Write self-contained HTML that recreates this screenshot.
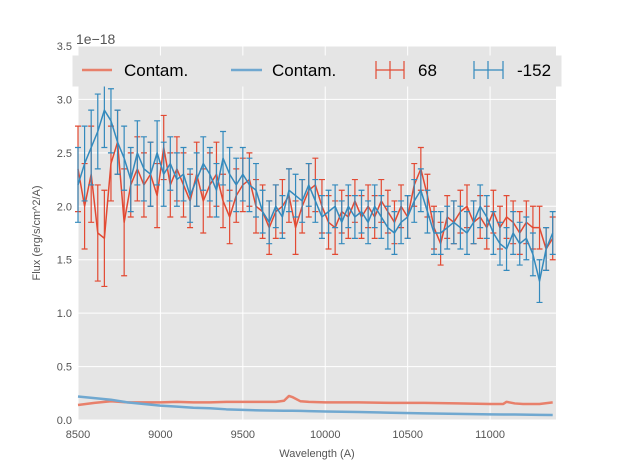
<!DOCTYPE html>
<html><head><meta charset="utf-8"><style>
body{margin:0;background:#fff}
svg{display:block;font-family:"Liberation Sans",sans-serif}
</style></head><body>
<svg id="chart" width="617" height="467">
<rect x="78" y="46" width="478" height="374" fill="#e5e5e5"/>
<g id="grid"></g><g id="marks"></g><g id="axes"></g><g id="legend"></g>
</svg>
<script>
const wave = [];
for (let w = 8500; w <= 11380; w += 40) wave.push(w);
const flux68 = [2.35,2.0,2.3,1.75,1.7,2.4,2.6,1.85,2.2,2.35,2.2,2.3,2.1,2.55,2.2,2.35,2.2,2.05,2.3,2.05,2.2,2.3,2.05,1.9,2.1,2.2,2.25,2.0,1.95,1.8,1.95,2.0,2.1,1.8,2.0,2.15,2.2,2.0,1.85,1.8,1.95,1.9,2.05,1.9,2.0,1.9,2.05,1.95,1.85,2.0,1.9,2.2,2.35,2.1,1.8,1.65,1.9,1.85,1.95,2.0,1.85,1.9,1.8,1.95,1.8,1.9,1.85,1.75,1.85,1.8,1.8,1.6,1.7];
const flux152 = [2.2,2.4,2.55,2.7,2.9,2.8,2.6,2.45,2.25,2.5,2.35,2.3,2.5,2.3,2.4,2.25,2.3,2.1,2.25,2.4,2.3,2.15,2.45,2.3,2.2,2.3,2.2,2.15,1.95,1.85,2.0,1.9,2.15,2.1,2.05,2.2,2.05,1.9,1.95,2.0,1.85,2.0,1.9,1.95,1.85,2.0,1.9,1.8,1.75,1.85,1.9,2.05,2.15,1.95,1.75,1.75,1.8,1.85,1.8,1.75,1.85,2.0,1.9,1.75,1.65,1.6,1.75,1.65,1.7,1.55,1.3,1.6,1.75];
const err68 = [0.4,0.4,0.45,0.45,0.45,0.35,0.3,0.5,0.3,0.3,0.3,0.3,0.3,0.3,0.3,0.3,0.3,0.25,0.3,0.3,0.3,0.3,0.25,0.25,0.25,0.25,0.25,0.25,0.25,0.25,0.25,0.25,0.25,0.25,0.25,0.25,0.25,0.25,0.25,0.25,0.2,0.2,0.2,0.2,0.2,0.2,0.2,0.2,0.2,0.2,0.2,0.2,0.2,0.2,0.2,0.2,0.2,0.2,0.2,0.2,0.2,0.2,0.2,0.2,0.2,0.2,0.2,0.2,0.2,0.2,0.2,0.2,0.2];
const err152 = [0.35,0.35,0.35,0.35,0.35,0.3,0.3,0.3,0.3,0.3,0.3,0.3,0.3,0.3,0.25,0.25,0.25,0.25,0.25,0.25,0.25,0.25,0.25,0.25,0.25,0.25,0.25,0.25,0.2,0.2,0.2,0.2,0.2,0.2,0.2,0.2,0.2,0.2,0.2,0.2,0.2,0.2,0.2,0.2,0.2,0.2,0.2,0.2,0.2,0.2,0.2,0.2,0.2,0.2,0.2,0.2,0.2,0.2,0.2,0.2,0.2,0.2,0.2,0.2,0.2,0.2,0.2,0.2,0.2,0.2,0.2,0.2,0.2];
const contamWave = [8500,8600,8700,8800,8900,9000,9100,9200,9300,9400,9500,9600,9700,9750,9780,9800,9850,9900,10000,10200,10400,10600,10800,11000,11080,11100,11150,11200,11300,11380];
const contam68 = [0.14,0.16,0.175,0.165,0.165,0.165,0.17,0.165,0.165,0.17,0.17,0.17,0.17,0.18,0.225,0.215,0.175,0.17,0.165,0.165,0.16,0.16,0.155,0.15,0.15,0.17,0.155,0.15,0.15,0.165];
const contam152 = [0.22,0.205,0.19,0.165,0.15,0.135,0.125,0.115,0.11,0.1,0.095,0.09,0.088,0.087,0.086,0.086,0.085,0.083,0.08,0.075,0.068,0.062,0.057,0.053,0.052,0.052,0.051,0.05,0.048,0.047];
const xTicks = [8500,9000,9500,10000,10500,11000];
const yTicks = [0.0,0.5,1.0,1.5,2.0,2.5,3.0,3.5];
const yTickLabels = ["0.0","0.5","1.0","1.5","2.0","2.5","3.0","3.5"];

const NS = "http://www.w3.org/2000/svg";
const X = w => 78 + (w - 8500) * 478 / 2900;
const Y = v => 420 - v * 374 / 3.5;
function mk(parent, tag, attrs) {
  const e = document.createElementNS(NS, tag);
  for (const k in attrs) e.setAttribute(k, attrs[k]);
  document.getElementById(parent).appendChild(e);
  return e;
}
xTicks.forEach(t => {
  const g = mk("grid","line",{x1:X(t),x2:X(t),y1:46,y2:420,stroke:"#fff","stroke-width":1});
  
  
  const l = mk("axes","text",{x:X(t),y:438,"text-anchor":"middle","font-size":11,fill:"#555"});
  l.textContent = t;
  
  
});
yTicks.forEach((t,i) => {
  const g = mk("grid","line",{x1:78,x2:556,y1:Y(t),y2:Y(t),stroke:"#fff","stroke-width":1});
  
  
  const l = mk("axes","text",{x:72,y:Y(t)+4,"text-anchor":"end","font-size":11,fill:"#555"});
  l.textContent = yTickLabels[i];
  
  
});
function line(xs, ys, color, name, width) {
  const p = mk("marks","polyline",{points:xs.map((w,i)=>X(w)+","+Y(ys[i])).join(" "),fill:"none",stroke:color,"stroke-width":width,"stroke-linejoin":"round"});
  
  
}
function errs(vals, es, color, name) {
  wave.forEach((w,i) => {
    const x = X(w), y1 = Y(vals[i]-es[i]), y2 = Y(vals[i]+es[i]);
    const e = mk("marks","path",{d:`M${x},${y1}V${y2}M${x-3},${y1}H${x+3}M${x-3},${y2}H${x+3}`,stroke:color,"stroke-width":1.2,fill:"none"});
    
    
  });
}
errs(flux68, err68, "#E24A33", "errorbar-68");
line(wave, flux68, "#E24A33", "flux-line-68", 1.5);
errs(flux152, err152, "#348ABD", "errorbar-152");
line(wave, flux152, "#348ABD", "flux-line-152", 1.5);
line(contamWave, contam68, "#E8806B", "contam-line-68", 2.5);
line(contamWave, contam152, "#70A8D0", "contam-line-152", 2.5);
</script>
<svg style="position:absolute;left:0;top:0" width="617" height="467">
<text x="76" y="44" font-size="14" fill="#555" font-family="Liberation Sans,sans-serif">1e−18</text>
<text x="317" y="457" font-size="11" fill="#555" text-anchor="middle" font-family="Liberation Sans,sans-serif">Wavelength (A)</text>
<text transform="translate(40,233) rotate(-90)" font-size="11" fill="#555" text-anchor="middle" font-family="Liberation Sans,sans-serif">Flux (erg/s/cm^2/A)</text>
<g font-family="Liberation Sans,sans-serif" font-size="17" fill="#000">
<rect x="73" y="56" width="488" height="30" fill="#e5e5e5" stroke="#e5e5e5"/>
<line x1="82" y1="70" x2="112" y2="70" stroke="#E8806B" stroke-width="2.5"/>
<text x="124" y="76">Contam.</text>
<line x1="231" y1="70" x2="262" y2="70" stroke="#70A8D0" stroke-width="2.5"/>
<text x="272" y="76">Contam.</text>
<path d="M376,70H404M390,61V79M376,61V79M404,61V79" stroke="#E24A33" stroke-width="1.2" fill="none"/>
<text x="418" y="76">68</text>
<path d="M474,70H503M488,61V79M474,61V79M503,61V79" stroke="#348ABD" stroke-width="1.2" fill="none"/>
<text x="517" y="76">-152</text>
</g>
</svg>
</body></html>
